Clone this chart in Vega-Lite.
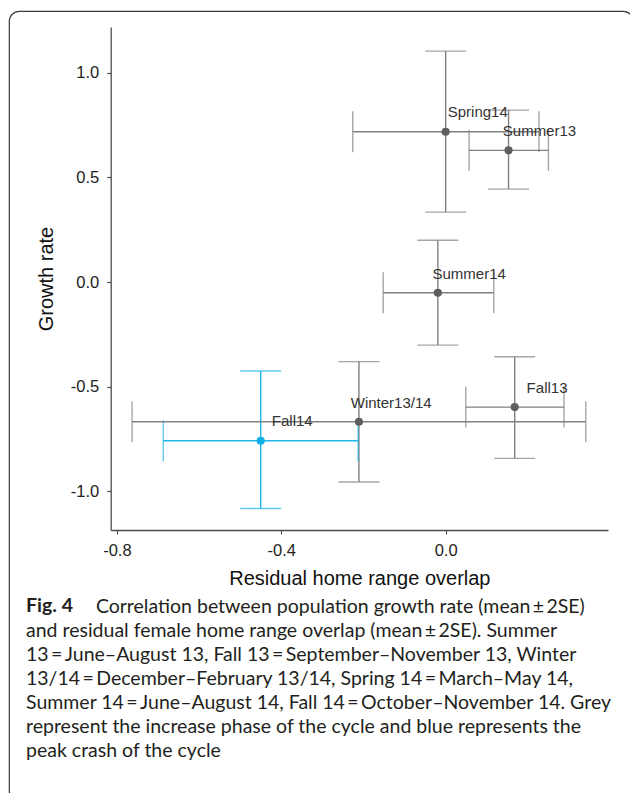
{
  "$schema": "https://vega.github.io/schema/vega-lite/v6.json",
  "width": 624,
  "height": 790,
  "autosize": "none",
  "padding": {"left": 9, "top": 11, "right": 0, "bottom": 0},
  "background": "white",
  "data": {
    "values": [
      {"season": "Summer13", "phase": "increase", "x": 0.153, "y": 0.629, "xlo": 0.057, "xhi": 0.25, "ylo": 0.444, "yhi": 0.821, "lx": 0.139, "ly": 0.699},
      {"season": "Fall13", "phase": "increase", "x": 0.168, "y": -0.597, "xlo": 0.049, "xhi": 0.288, "ylo": -0.842, "yhi": -0.357, "lx": 0.197, "ly": -0.529},
      {"season": "Winter13/14", "phase": "increase", "x": -0.211, "y": -0.667, "xlo": -0.763, "xhi": 0.341, "ylo": -0.955, "yhi": -0.38, "lx": -0.231, "ly": -0.603},
      {"season": "Spring14", "phase": "increase", "x": 0.0, "y": 0.718, "xlo": -0.226, "xhi": 0.227, "ylo": 0.334, "yhi": 1.103, "lx": 0.005, "ly": 0.789},
      {"season": "Summer14", "phase": "increase", "x": -0.019, "y": -0.051, "xlo": -0.152, "xhi": 0.117, "ylo": -0.301, "yhi": 0.2, "lx": -0.032, "ly": 0.016},
      {"season": "Fall14", "phase": "crash", "x": -0.45, "y": -0.758, "xlo": -0.687, "xhi": -0.213, "ylo": -1.081, "yhi": -0.425, "lx": -0.423, "ly": -0.688}
    ]
  },
  "title": {
    "text": "Fig. 4",
    "subtitle": [
      "\u200b\u00a0\u00a0\u00a0\u00a0\u00a0\u00a0\u00a0\u00a0\u00a0\u00a0\u00a0\u00a0\u00a0\u00a0Correlation between population growth rate (mean\u2009\u00b1\u20092SE)",
      "and residual female home range overlap (mean\u2009\u00b1\u20092SE). Summer",
      "13\u2009=\u2009June\u2013August 13, Fall 13\u2009=\u2009September\u2013November 13, Winter",
      "13/14\u2009=\u2009December\u2013February 13/14, Spring 14\u2009=\u2009March\u2013May 14,",
      "Summer 14\u2009=\u2009June\u2013August 14, Fall 14\u2009=\u2009October\u2013November 14. Grey",
      "represent the increase phase of the cycle and blue represents the",
      "peak crash of the cycle"
    ],
    "orient": "bottom",
    "anchor": "start",
    "frame": "group",
    "offset": -204,
    "dx": 17,
    "font": "Lato",
    "fontSize": 19.5,
    "fontWeight": "bold",
    "color": "#231f20",
    "subtitleFont": "Lato",
    "subtitleFontSize": 19.5,
    "subtitleFontWeight": "normal",
    "subtitleColor": "#231f20",
    "subtitleLineHeight": 24,
    "subtitlePadding": -19
  },
  "layer": [
    {
      "mark": {"type": "errorbar", "ticks": {"size": 41}, "thickness": 1.4},
      "encoding": {
        "x": {
          "field": "x", "type": "quantitative", "title": "Residual home range overlap",
          "scale": {"domain": [-0.815, 0.395], "range": [101.7, 599], "nice": false, "zero": false},
          "axis": {"orient": "bottom", "offset": -271, "values": [-0.8, -0.4, 0.0], "format": ".1f", "labelExpr": "replace(datum.label, '\u2212', '-')"}
        },
        "y": {
          "field": "ylo", "type": "quantitative", "title": "Growth rate",
          "scale": {"domain": [-1.184, 1.218], "range": [519, 16], "nice": false, "zero": false},
          "axis": {"orient": "left", "offset": -101.7, "values": [-1.0, -0.5, 0.0, 0.5, 1.0], "format": ".1f", "labelExpr": "replace(datum.label, '\u2212', '-')", "titlePadding": 14}
        },
        "y2": {"field": "yhi"},
        "color": {"field": "phase", "type": "nominal", "scale": {"domain": ["increase", "crash"], "range": ["#808080", "#1fb4ea"]}, "legend": null}
      }
    },
    {
      "mark": {"type": "errorbar", "ticks": {"size": 41}, "thickness": 1.4},
      "encoding": {
        "x": {"field": "xlo", "type": "quantitative", "title": "Residual home range overlap"},
        "x2": {"field": "xhi"},
        "y": {"field": "y", "type": "quantitative", "title": "Growth rate"},
        "color": {"field": "phase", "type": "nominal", "legend": null}
      }
    },
    {
      "mark": {"type": "circle", "size": 66, "opacity": 1},
      "encoding": {
        "x": {"field": "x", "type": "quantitative", "title": "Residual home range overlap"},
        "y": {"field": "y", "type": "quantitative", "title": "Growth rate"},
        "fill": {"field": "phase", "type": "nominal", "scale": {"domain": ["increase", "crash"], "range": ["#5e5e5e", "#12aee8"]}, "legend": null}
      }
    },
    {
      "mark": {"type": "text", "align": "left", "baseline": "alphabetic", "font": "Liberation Sans", "fontSize": 15, "color": "#333333"},
      "encoding": {
        "x": {"field": "lx", "type": "quantitative", "title": "Residual home range overlap"},
        "y": {"field": "ly", "type": "quantitative", "title": "Growth rate"},
        "text": {"field": "season", "type": "nominal"}
      }
    }
  ],
  "config": {
    "view": {"stroke": "#3c3c3c", "strokeWidth": 1.2, "cornerRadius": 10},
    "axis": {
      "grid": false,
      "domainColor": "#4d4d4d",
      "domainWidth": 1.3,
      "tickColor": "#4d4d4d",
      "tickWidth": 1.2,
      "tickSize": 4,
      "labelFont": "Liberation Sans",
      "labelFontSize": 16.5,
      "labelColor": "#222222",
      "labelPadding": 8,
      "titleFont": "Liberation Sans",
      "titleFontSize": 20,
      "titleFontWeight": "normal",
      "titleColor": "#111111",
      "titlePadding": 10
    }
  }
}
